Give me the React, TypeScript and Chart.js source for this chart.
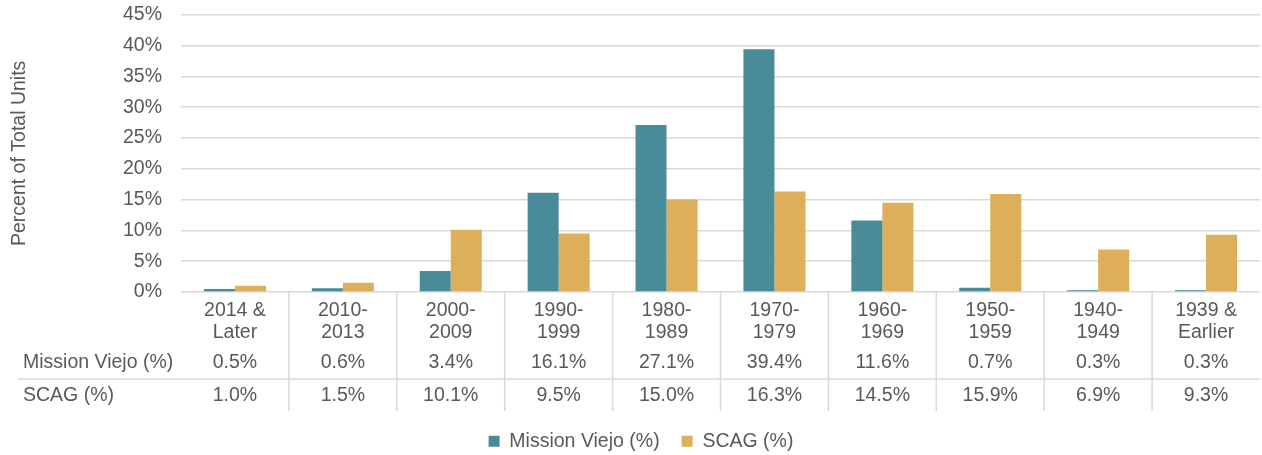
import React, { useEffect, useRef } from 'react';
import { Chart, registerables } from 'chart.js';

Chart.register(...registerables);

const categoryLines: string[][] = [
  ['2014 &', 'Later'],
  ['2010-', '2013'],
  ['2000-', '2009'],
  ['1990-', '1999'],
  ['1980-', '1989'],
  ['1970-', '1979'],
  ['1960-', '1969'],
  ['1950-', '1959'],
  ['1940-', '1949'],
  ['1939 &', 'Earlier'],
];
const missionViejo = [0.5, 0.6, 3.4, 16.1, 27.1, 39.4, 11.6, 0.7, 0.3, 0.3];
const scag = [1.0, 1.5, 10.1, 9.5, 15.0, 16.3, 14.5, 15.9, 6.9, 9.3];
const seriesNames = ['Mission Viejo (%)', 'SCAG (%)'];
const yAxisTitle = 'Percent of Total Units';

const TEAL = '#4A8B99';
const GOLD = '#DDAF5A';
const GRID = '#D9D9D9';
const TEXT = '#595959';
const FONT = "'Liberation Sans', Arial, sans-serif";
const FS = 19.5;

const tablePlugin = {
  id: 'dataTable',
  afterLayout(chart: any) {
    if (chart.legend) {
      chart.legend.top += 6;
      chart.legend.bottom += 6;
      chart.legend.left += 11;
      chart.legend.right += 11;
    }
  },
  afterDraw(chart: any) {
    const { ctx, chartArea } = chart;
    const x = chart.scales.x;
    const n = categoryLines.length;
    const bottom = chartArea.bottom;
    const row1Y = bottom + 71;
    const sepY = bottom + 87;
    const row2Y = bottom + 104;
    const tableBottom = bottom + 119;
    ctx.save();
    ctx.strokeStyle = GRID;
    ctx.lineWidth = 1.5;
    ctx.beginPath();
    for (let i = 0; i < n - 1; i++) {
      const bx = (x.getPixelForValue(i) + x.getPixelForValue(i + 1)) / 2;
      ctx.moveTo(bx, bottom);
      ctx.lineTo(bx, tableBottom);
    }
    ctx.moveTo(18, sepY);
    ctx.lineTo(chartArea.right, sepY);
    ctx.stroke();

    ctx.fillStyle = TEXT;
    ctx.font = `${FS}px ${FONT}`;
    ctx.textBaseline = 'middle';
    ctx.textAlign = 'left';
    ctx.fillText(seriesNames[0], 23, row1Y);
    ctx.fillText(seriesNames[1], 23, row2Y);
    ctx.textAlign = 'center';
    for (let i = 0; i < n; i++) {
      const cx = x.getPixelForValue(i);
      ctx.fillText(missionViejo[i].toFixed(1) + '%', cx, row1Y);
      ctx.fillText(scag[i].toFixed(1) + '%', cx, row2Y);
    }
    ctx.restore();
  },
};

export default function App() {
  const ref = useRef<HTMLCanvasElement | null>(null);
  useEffect(() => {
    document.body.style.margin = '0';
    const canvas = ref.current;
    if (!canvas) return;
    const chart = new Chart(canvas, {
      type: 'bar',
      data: {
        labels: categoryLines,
        datasets: [
          {
            label: seriesNames[0],
            data: missionViejo,
            backgroundColor: TEAL,
            categoryPercentage: 0.575,
            barPercentage: 1,
          },
          {
            label: seriesNames[1],
            data: scag,
            backgroundColor: GOLD,
            categoryPercentage: 0.575,
            barPercentage: 1,
          },
        ],
      },
      options: {
        animation: false,
        responsive: false,
        devicePixelRatio: 1,
        layout: { padding: { top: 0, right: 2, left: 0, bottom: 0 } },
        plugins: {
          tooltip: { enabled: false },
          legend: {
            position: 'bottom',
            labels: {
              boxWidth: 11,
              boxHeight: 11,
              padding: 22,
              color: TEXT,
              font: { family: FONT, size: FS },
            },
          },
        },
        scales: {
          x: {
            grid: { display: false },
            border: { display: false },
            ticks: {
              color: TEXT,
              padding: 0,
              maxRotation: 0,
              autoSkip: false,
              font: { family: FONT, size: FS, lineHeight: 22 / FS },
            },
            afterFit: (scale: any) => {
              scale.height = 111.5;
            },
          },
          y: {
            min: 0,
            max: 45,
            border: { display: false },
            grid: {
              color: GRID,
              lineWidth: 1.5,
              drawTicks: true,
              tickLength: 16,
              tickColor: 'rgba(0,0,0,0)',
            },
            ticks: {
              stepSize: 5,
              padding: 3,
              color: TEXT,
              font: { family: FONT, size: FS, lineHeight: 1.2 },
              callback: (v: any) => v + '%',
            },
            title: {
              display: true,
              text: yAxisTitle,
              color: TEXT,
              font: { family: FONT, size: FS, lineHeight: 1.2 },
              padding: { top: 8, bottom: 0 },
            },
            afterFit: (scale: any) => {
              scale.width = 181;
            },
          },
        },
      },
      plugins: [tablePlugin],
    });
    return () => chart.destroy();
  }, []);
  return (
    <div style={{ width: 1262, height: 455 }}>
      <canvas ref={ref} width={1262} height={455} />
    </div>
  );
}
